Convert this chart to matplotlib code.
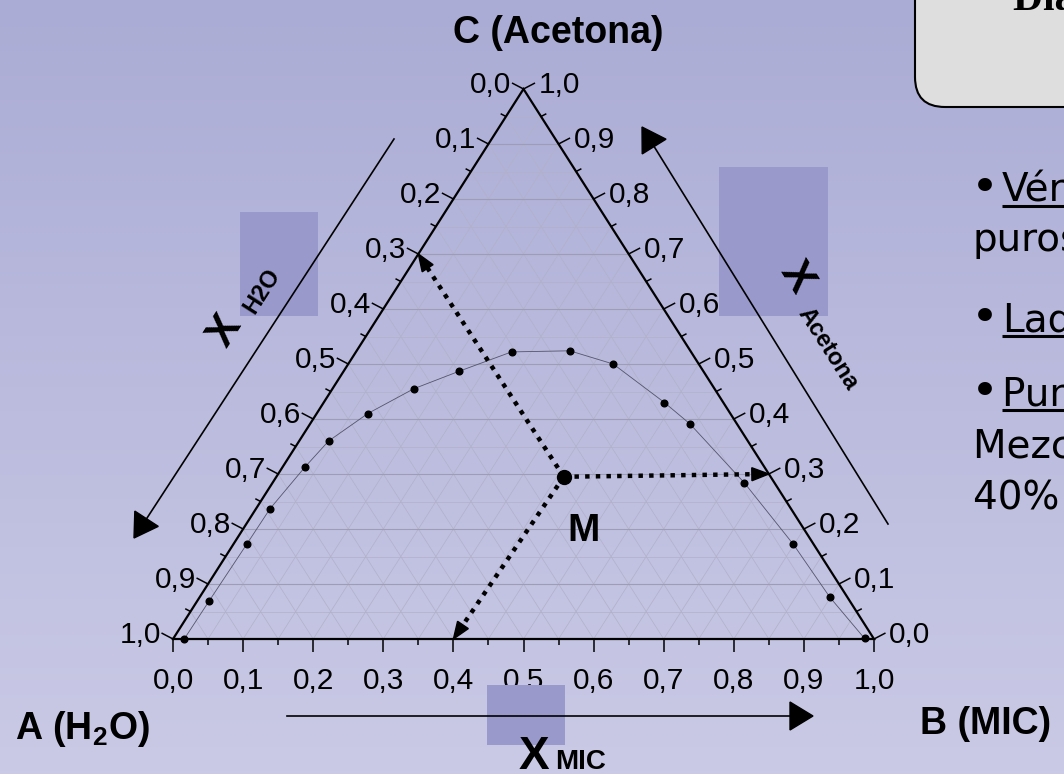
import numpy as np
import matplotlib
matplotlib.use("Agg")
import matplotlib.pyplot as plt
from matplotlib.collections import LineCollection
from matplotlib.colors import LinearSegmentedColormap
from matplotlib.patches import Polygon, Rectangle, FancyBboxPatch

plt.rcParams["font.family"] = ["Liberation Sans", "DejaVu Sans"]
plt.rcParams["mathtext.fontset"] = "custom"
plt.rcParams["mathtext.rm"] = "Liberation Sans"
plt.rcParams["mathtext.bf"] = "Liberation Sans:bold"

# --- binodal curve: (MIC, acetona) mole fractions of each measured point ---
x_mic = [0.016, 0.017, 0.019, 0.020, 0.032, 0.042, 0.073, 0.116, 0.165,
         0.222, 0.304, 0.378, 0.486, 0.542, 0.673, 0.799, 0.899, 0.986]
x_acetona = [0.000, 0.070, 0.173, 0.237, 0.313, 0.360, 0.410, 0.455, 0.487,
             0.522, 0.524, 0.500, 0.430, 0.391, 0.284, 0.172, 0.076, 0.001]

# mixture M and its readings on the three scales
m_mic, m_acetona = 0.41, 0.295
read_h2o = 0.3
read_mic = 0.4
read_acetona = 0.3

scale_values = np.round(np.arange(0, 1.001, 0.1), 1)
scale_labels = [f"{v:.1f}".replace(".", ",") for v in scale_values]

panel_lines = [
    ("•", "Vértices:", " componentes"),
    ("", "", "puros"),
    ("•", "Lados:", " mezclas binarias"),
    ("•", "Puntos interiores:", ""),
    ("", "", "Mezcla ternaria"),
    ("", "", "40% MIC, 30% acetona"),
]
panel_baselines = [202, 251, 332, 406, 457, 509]

# --- layout (pixels) ---
W, H = 1064, 774
LEFT, RIGHT, BASE, APEX = 173, 874, 639, 89

fig = plt.figure(figsize=(W / 100, H / 100), dpi=100)

ax = fig.add_axes([0, 0, 1, 1])
xlim = (-LEFT / (RIGHT - LEFT), (W - LEFT) / (RIGHT - LEFT))
ylim = (-(H - BASE) / (BASE - APEX), BASE / (BASE - APEX))
ax.set_xlim(xlim)
ax.set_ylim(ylim)
ax.axis("off")

bg = LinearSegmentedColormap.from_list("bg", ["#cacae6", "#abacd5"])
ax.imshow(np.linspace(0, 1, 256).reshape(-1, 1), cmap=bg, origin="lower",
          extent=(*xlim, *ylim), aspect="auto", zorder=0)
ax.set_xlim(xlim)
ax.set_ylim(ylim)


def cart(mic, ac):
    mic = np.asarray(mic, dtype=float)
    ac = np.asarray(ac, dtype=float)
    return mic + 0.5 * ac, ac


def shifted(xy, dx, dy):
    p = ax.transData.transform(xy) + np.array([dx, dy])
    return ax.transData.inverted().transform(p)


def head(axis, tip, tail, length, width, **kw):
    t = axis.transData
    p1 = t.transform(tip)
    p0 = t.transform(tail)
    d = (p1 - p0) / np.hypot(*(p1 - p0))
    n = np.array([-d[1], d[0]])
    b = p1 - d * length
    pts = t.inverted().transform(np.array([p1, b + n * width / 2, b - n * width / 2]))
    axis.add_patch(Polygon(pts, closed=True, **kw))
    return t.inverted().transform(b + d * 2)


# grid every 0.05
major_h, minor = [], []
for k in range(1, 20):
    f = k / 20
    h = [cart(0, f), cart(1 - f, f)]
    d1 = [cart(f, 0), cart(f, 1 - f)]
    d2 = [cart(1 - f, 0), cart(0, 1 - f)]
    (major_h if k % 2 == 0 else minor).append(h)
    minor.extend([d1, d2])
ax.add_collection(LineCollection(minor, colors="#b1b1c9", linewidths=0.5, zorder=1))
ax.add_collection(LineCollection(major_h, colors="#9d9db5", linewidths=0.8, zorder=1))

# triangle edges
tri = np.array([cart(0, 0), cart(1, 0), cart(0, 1), cart(0, 0)])
ax.plot(tri[:, 0], tri[:, 1], color="black", lw=1.6, zorder=3,
        solid_joinstyle="miter")

# ticks and scale labels
left_dir = np.array([-0.886, 0.463])
right_dir = np.array([0.886, 0.463])
down_dir = np.array([0.0, -1.0])
ticks = []
for k in range(21):
    f = k / 20
    ln = 13 if k % 2 == 0 else 6
    for p, dvec in ((cart(f, 0), down_dir), (cart(0, 1 - f), left_dir),
                    (cart(1 - f, f), right_dir)):
        ticks.append([p, shifted(p, *(dvec * ln))])
ax.add_collection(LineCollection(ticks, colors="black", linewidths=1.1, zorder=3))

for v, lab in zip(scale_values, scale_labels):
    ax.annotate(lab, cart(v, 0), xytext=(0, -50), textcoords="offset pixels",
                ha="center", va="baseline", fontsize=21.5, zorder=4)
    ax.annotate(lab, cart(0, 1 - v), xytext=(-12, -4), textcoords="offset pixels",
                ha="right", va="baseline", fontsize=21.5, zorder=4)
    ax.annotate(lab, cart(1 - v, v), xytext=(15, -4), textcoords="offset pixels",
                ha="left", va="baseline", fontsize=21.5, zorder=4)

# binodal curve
cx, cy = cart(x_mic, x_acetona)
ax.plot(cx, cy, color="#54546a", lw=0.6, zorder=4)
ax.plot(cx, cy, "o", color="black", ms=4.8, zorder=5)

# mixture M and its reading arrows
m_xy = np.array(cart(m_mic, m_acetona), dtype=float)
for target in (cart(0, 1 - read_h2o), cart(1 - read_acetona, read_acetona),
               cart(read_mic, 0)):
    tip = np.array(target, dtype=float)
    end = head(ax, tip, m_xy, 17, 13, color="black", zorder=6)
    ax.plot([m_xy[0], end[0]], [m_xy[1], end[1]], color="black", lw=3.2,
            linestyle=(0, (1, 1.4)), dash_capstyle="butt", zorder=6)
ax.plot(*m_xy, "o", color="black", ms=10, zorder=7)

# --- overlay in pixel coordinates ---
deco = fig.add_axes([0, 0, 1, 1])
deco.set_xlim(0, W)
deco.set_ylim(H, 0)
deco.axis("off")

for x0, y0, x1, y1 in [(240, 212, 318, 316), (719, 167, 828, 316), (487, 685, 565, 745)]:
    deco.add_patch(Rectangle((x0, y0), x1 - x0, y1 - y0, fc="#9999cc", ec="none", zorder=1))

for tail, tip in [((394, 139), (134, 538)), ((888, 524), (642, 127)),
                  ((287, 716), (813, 716))]:
    end = head(deco, np.array(tip, float), np.array(tail, float), 23, 28,
               color="black", zorder=3)
    deco.plot([tail[0], end[0]], [tail[1], end[1]], color="black", lw=1.2, zorder=3)

bold = dict(fontweight="bold", color="black", zorder=4)
deco.text(558, 43, "C (Acetona)", ha="center", va="baseline", fontsize=27, **bold)
deco.text(15, 739, r"A (H$_\mathbf{2}$O)", ha="left", va="baseline", fontsize=27, **bold)
deco.text(920, 734, "B (MIC)", ha="left", va="baseline", fontsize=27, **bold)
deco.text(567, 541, "M", ha="left", va="baseline", fontsize=28, **bold)

deco.text(225, 331, "X", rotation=57.5, rotation_mode="anchor", ha="center",
          va="center", fontsize=31, **bold)
deco.text(262, 291, "H2O", rotation=57.5, rotation_mode="anchor", ha="center",
          va="center", fontsize=17, **bold)
deco.text(797, 277, "X", rotation=-57.5, rotation_mode="anchor", ha="center",
          va="center", fontsize=31, **bold)
deco.text(828, 349, "Acetona", rotation=-57.5, rotation_mode="anchor", ha="center",
          va="center", fontsize=17, **bold)
deco.text(519, 769, "X", ha="left", va="baseline", fontsize=33, **bold)
deco.text(555, 769, "MIC", ha="left", va="baseline", fontsize=20, **bold)

# title box
deco.add_patch(FancyBboxPatch((915, -80), 300, 187,
                              boxstyle="round,pad=0,rounding_size=30",
                              fc="#dedede", ec="black", lw=1.5, zorder=2))
deco.text(1013, 10, "Diagrama triangular", ha="left", va="baseline", fontsize=30,
          family="Liberation Serif", **bold)

# bullet panel
fig.canvas.draw()
renderer = fig.canvas.get_renderer()
inv = deco.transData.inverted()
for (bullet, under, rest), yb in zip(panel_lines, panel_baselines):
    txt = dict(va="baseline", fontsize=28, family="DejaVu Sans", color="black", zorder=4)
    if bullet:
        deco.text(971, yb, bullet, ha="left", fontsize=34, va="baseline",
                  family="DejaVu Sans", color="black", zorder=4)
        x = 1002
    else:
        x = 973
    if under:
        t = deco.text(x, yb, under, ha="left", **txt)
        bb = t.get_window_extent(renderer)
        x_end = inv.transform((bb.x1, 0))[0]
        deco.plot([x, x_end], [yb + 4, yb + 4], color="black", lw=2.2, zorder=4,
                  solid_capstyle="butt")
        x = x_end
    if rest:
        deco.text(x, yb, rest, ha="left", **txt)

fig.savefig("out.png", dpi=100)
